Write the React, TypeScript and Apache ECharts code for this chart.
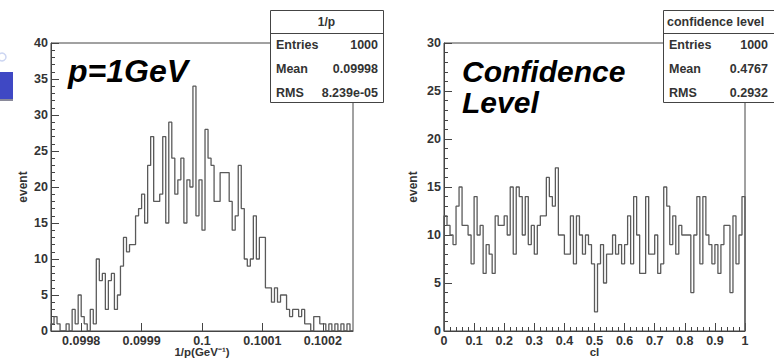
import React, { useEffect, useRef } from 'react';
import * as echarts from 'echarts';

// ---- Left histogram: 1/p ----
const momentumMin = 0.09975;
const momentumMax = 0.10025;
const momentumCounts = [
  1, 2, 1, 0, 0, 1, 0, 3, 1, 5,
  2, 1, 0, 3, 1, 10, 7, 8, 3, 7,
  8, 3, 5, 9, 13, 11, 12, 12, 16, 17,
  19, 15, 23, 27, 18, 18, 19, 27, 15, 29,
  24, 19, 21, 24, 15, 21, 20, 34, 16, 21,
  14, 28, 24, 23, 18, 18, 22, 22, 22, 18,
  14, 16, 23, 17, 10, 9, 10, 16, 10, 13,
  13, 6, 6, 4, 6, 4, 5, 5, 3, 2,
  3, 3, 2, 3, 1, 1, 0, 2, 2, 1,
  1, 0, 1, 0, 1, 0, 1, 0, 1, 0,
];
const momentumTicks = [0.0998, 0.0999, 0.1, 0.1001, 0.1002];
const momentumTickLabels = ['0.0998', '0.0999', '0.1', '0.1001', '0.1002'];
const momentumTitle = '1/p';
const momentumStatNames = ['Entries', 'Mean', 'RMS'];
const momentumStatValues = ['1000', '0.09998', '8.239e-05'];
const momentumLabel = 'p=1GeV';
const momentumAxisName = '1/p(GeV\u207B\u00B9)';

// ---- Right histogram: confidence level ----
const clMin = 0;
const clMax = 1;
const clCounts = [
  12, 11, 10, 9, 13, 15, 11, 11, 10, 7,
  14, 10, 11, 6, 9, 8, 6, 12, 11, 11,
  12, 10, 15, 8, 15, 14, 10, 14, 9, 11,
  8, 11, 12, 12, 16, 14, 13, 17, 10, 10,
  8, 8, 12, 7, 12, 10, 8, 10, 9, 7,
  2, 7, 9, 5, 8, 8, 10, 8, 9, 7,
  9, 12, 7, 14, 10, 6, 6, 14, 8, 8,
  10, 6, 7, 15, 13, 9, 12, 8, 11, 10,
  10, 10, 4, 10, 14, 7, 14, 10, 9, 7,
  9, 6, 9, 11, 11, 4, 12, 7, 10, 14,
];
const clTicks = [0, 0.1, 0.2, 0.3, 0.4, 0.5, 0.6, 0.7, 0.8, 0.9, 1];
const clTickLabels = ['0', '0.1', '0.2', '0.3', '0.4', '0.5', '0.6', '0.7', '0.8', '0.9', '1'];
const clTitle = 'confidence level';
const clStatNames = ['Entries', 'Mean', 'RMS'];
const clStatValues = ['1000', '0.4767', '0.2932'];
const clLabelLines = ['Confidence', 'Level'];
const clAxisName = 'cl';

const yAxisName = 'event';

const FONT = "'Liberation Sans', Arial, Helvetica, sans-serif";
const FRAME = '#444';
const TXT = '#333';

function stepData(counts: number[], min: number, max: number) {
  const w = (max - min) / counts.length;
  const d: number[][] = [[min, 0]];
  counts.forEach((c, i) => d.push([min + i * w, c]));
  d.push([max, counts[counts.length - 1]]);
  d.push([max, 0]);
  return d;
}

function labelFor(ticks: number[], labels: string[]) {
  return (v: number) => {
    for (let i = 0; i < ticks.length; i++) {
      if (Math.abs(ticks[i] - v) < 1e-9) return labels[i];
    }
    return '';
  };
}

function text(x: number, y: number, t: string, opts: any = {}) {
  const align = opts.align || 'left';
  const va = opts.va || 'middle';
  const style: any = {
    text: t,
    fontSize: opts.size || 13,
    fontWeight: opts.weight || 'bold',
    fontStyle: opts.style || 'normal',
    fontFamily: FONT,
    fill: opts.fill || TXT,
    align,
    textAlign: align,
    verticalAlign: va,
    textVerticalAlign: va,
  };
  return { type: 'text', x, y, z: 100, style };
}

function statsBox(x: number, w: number, title: string, names: string[], titleAlign: string) {
  const els: any[] = [];
  els.push({
    type: 'rect',
    z: 90,
    shape: { x: x + 0.5, y: 10.5, width: w, height: 92 },
    style: { fill: '#fff', stroke: FRAME, lineWidth: 1 },
  });
  els.push({
    type: 'line',
    z: 91,
    shape: { x1: x, y1: 33.5, x2: x + w, y2: 33.5 },
    style: { stroke: FRAME, lineWidth: 1 },
  });
  if (titleAlign === 'center') {
    els.push(text(x + w / 2, 22, title, { align: 'center', size: 12 }));
  } else {
    els.push(text(x + 4, 22, title, { align: 'left', size: 12.5 }));
  }
  const rowsY = [45, 69, 93];
  names.forEach((n, i) => {
    els.push(text(x + 6, rowsY[i], n, { size: 12.5 }));
  });
  return els;
}

export default function App() {
  const ref = useRef<HTMLDivElement>(null);

  useEffect(() => {
    if (!ref.current) return;
    const chart = echarts.init(ref.current, null, { renderer: 'svg' });

    const axisLabelStyle = {
      color: TXT,
      fontFamily: FONT,
      fontSize: 12.5,
      fontWeight: 'bold',
    };

    const yAxisCommon = (max: number) => ({
      type: 'value',
      min: 0,
      max,
      interval: 5,
      name: yAxisName,
      nameLocation: 'middle',
      nameRotate: 90,
      nameGap: 22,
      nameMoveOverlap: false,
      nameTextStyle: { color: TXT, fontFamily: FONT, fontSize: 12, fontWeight: 'bold' },
      axisLine: { show: true, lineStyle: { color: FRAME, width: 1 } },
      axisTick: { show: true, inside: true, length: 8, lineStyle: { color: FRAME } },
      minorTick: { show: true, splitNumber: 5, length: 4, lineStyle: { color: FRAME } },
      splitLine: { show: false },
      minorSplitLine: { show: false },
      axisLabel: { ...axisLabelStyle, margin: 3 },
    });

    const rowsY = [45, 69, 93];
    const leftBox = statsBox(270, 113, momentumTitle, momentumStatNames, 'center');
    momentumStatValues.forEach((v, i) => leftBox.push(text(378, rowsY[i], v, { align: 'right', size: 12.5 })));
    const rightBox = statsBox(663, 130, clTitle, clStatNames, 'left');
    clStatValues.forEach((v, i) => rightBox.push(text(768, rowsY[i], v, { align: 'right', size: 12.5 })));

    const gridCommon = {
      height: 288,
      top: 43,
      show: true,
      borderColor: FRAME,
      borderWidth: 1,
      backgroundColor: 'transparent',
      containLabel: false,
      outerBoundsMode: 'none',
    };

    const xNameStyle = { color: TXT, fontFamily: FONT, fontSize: 11.5, fontWeight: 'bold' };

    const option: any = {
      animation: false,
      backgroundColor: '#fff',
      grid: [
        { ...gridCommon, left: 51, width: 302 },
        { ...gridCommon, left: 444, width: 301 },
      ],
      xAxis: [
        {
          gridIndex: 0,
          type: 'value',
          min: momentumMin,
          max: momentumMax,
          name: momentumAxisName,
          nameLocation: 'middle',
          nameGap: 15,
          nameMoveOverlap: false,
          nameTextStyle: xNameStyle,
          axisLine: { show: true, lineStyle: { color: FRAME, width: 1 } },
          axisTick: { show: true, inside: true, length: 8, customValues: momentumTicks, lineStyle: { color: FRAME } },
          splitLine: { show: false },
          axisLabel: { ...axisLabelStyle, margin: 3, customValues: momentumTicks, formatter: labelFor(momentumTicks, momentumTickLabels) },
        },
        {
          gridIndex: 1,
          type: 'value',
          min: clMin,
          max: clMax,
          interval: 0.1,
          name: clAxisName,
          nameLocation: 'middle',
          nameGap: 15,
          nameMoveOverlap: false,
          nameTextStyle: xNameStyle,
          axisLine: { show: true, lineStyle: { color: FRAME, width: 1 } },
          axisTick: { show: true, inside: true, length: 8, lineStyle: { color: FRAME } },
          minorTick: { show: true, splitNumber: 5, length: 4, lineStyle: { color: FRAME } },
          splitLine: { show: false },
          minorSplitLine: { show: false },
          axisLabel: { ...axisLabelStyle, margin: 3, formatter: labelFor(clTicks, clTickLabels) },
        },
      ],
      yAxis: [
        { gridIndex: 0, ...yAxisCommon(40) },
        { gridIndex: 1, ...yAxisCommon(30), nameGap: 25 },
      ],
      series: [
        {
          type: 'line',
          xAxisIndex: 0,
          yAxisIndex: 0,
          step: 'end',
          symbol: 'none',
          silent: true,
          lineStyle: { color: '#5a5a5a', width: 1.3 },
          data: stepData(momentumCounts, momentumMin, momentumMax),
        },
        {
          type: 'line',
          xAxisIndex: 1,
          yAxisIndex: 1,
          step: 'end',
          symbol: 'none',
          silent: true,
          lineStyle: { color: '#5a5a5a', width: 1.3 },
          data: stepData(clCounts, clMin, clMax),
        },
      ],
      graphic: [
        {
          type: 'rect',
          shape: { x: 0, y: 72, width: 13, height: 27 },
          style: { fill: '#3f48c4' },
        },
        {
          type: 'rect',
          shape: { x: 0, y: 99, width: 13, height: 2 },
          style: { fill: '#8a8a9a' },
        },
        {
          type: 'circle',
          shape: { cx: 2, cy: 57, r: 4 },
          style: { fill: 'none', stroke: '#cdd6f2', lineWidth: 1.5 },
        },
        text(68, 55, momentumLabel, { size: 32, weight: 'bold', style: 'italic', fill: '#000', va: 'top' }),
        text(462, 56, clLabelLines[0], { size: 30, weight: 'bold', style: 'italic', fill: '#000', va: 'top' }),
        text(462, 87, clLabelLines[1], { size: 30, weight: 'bold', style: 'italic', fill: '#000', va: 'top' }),
        ...leftBox,
        ...rightBox,
      ],
    };

    chart.setOption(option);
    return () => chart.dispose();
  }, []);

  return (
    <div
      ref={ref}
      style={{ position: 'fixed', left: 0, top: 0, width: 774, height: 361, background: '#fff' }}
    />
  );
}
